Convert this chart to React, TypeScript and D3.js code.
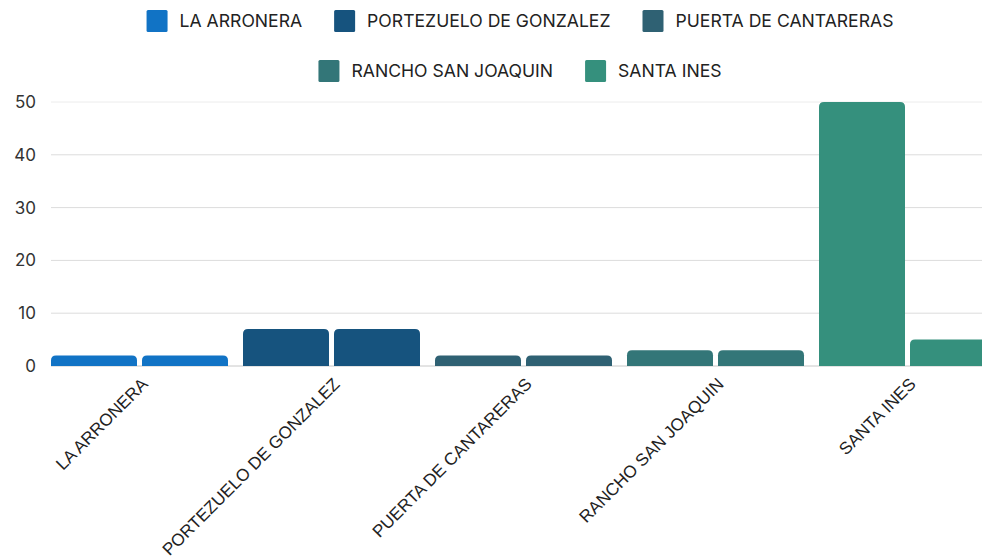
import React from 'react'
import * as d3 from 'd3'

const categories = ['LA ARRONERA', 'PORTEZUELO DE GONZALEZ', 'PUERTA DE CANTARERAS', 'RANCHO SAN JOAQUIN', 'SANTA INES']
const seriesA = [2, 7, 2, 3, 50]
const seriesB = [2, 7, 2, 3, 5]
const colors = ['#1173c5', '#16537e', '#2f6173', '#337678', '#35907d']
const yTicks = [0, 10, 20, 30, 40, 50]
const legendRows = [[0, 1, 2], [3, 4]]

const width = 982
const height = 559
const left = 51
const top = 102
const bottom = 366
const legendFont = '17.6px Inter'

const measure = (() => {
  const ctx = typeof document !== 'undefined' ? document.createElement('canvas').getContext('2d') : null
  return (s: string) => {
    if (!ctx) return s.length * 10
    ctx.font = legendFont
    return ctx.measureText(s).width
  }
})()

const topRounded = (x: number, y: number, w: number, h: number, r: number) => {
  const rr = Math.min(r, h, w / 2)
  return `M${x},${y + h}V${y + rr}Q${x},${y} ${x + rr},${y}H${x + w - rr}Q${x + w},${y} ${x + w},${y + rr}V${y + h}Z`
}

export default function App () {
  const x = d3.scaleBand<string>().domain(categories).range([left, left + 192 * 5 - 15]).paddingInner(15 / 192).paddingOuter(0)
  const inner = d3.scaleBand<number>().domain([0, 1]).range([0, x.bandwidth()]).paddingInner(5 / 91).paddingOuter(0)
  const y = d3.scaleLinear().domain([0, 50]).range([bottom, top])

  const legend = legendRows.map((row, ri) => {
    const items = row.map(i => ({ i, w: 21 + 12 + measure(categories[i]) }))
    const total = d3.sum(items, d => d.w) + 32 * (items.length - 1)
    let cx = 520 - total / 2
    return items.map(d => {
      const out = { ...d, x: cx, y: 21 + ri * 50 }
      cx += d.w + 32
      return out
    })
  }).flat()

  return (
    <svg width={width} height={height} style={{ display: 'block', position: 'absolute', left: 0, top: 0 }}>
      {legend.map(d => (
        <g key={d.i} transform={`translate(${d.x},${d.y})`}>
          <rect x={0} y={-11} width={21} height={22} rx={1.5} fill={colors[d.i]} />
          <text x={33} y={0} dy='0.35em' fontFamily='Inter' fontSize={17.6} fill='#222'>{categories[d.i]}</text>
        </g>
      ))}
      {yTicks.map(t => (
        <g key={t}>
          <line x1={left} x2={width} y1={y(t)} y2={y(t)} stroke={t === 0 ? '#c8c8c8' : t === 50 ? '#ececec' : '#dcdcdc'} strokeWidth={1} />
          <text x={36} y={y(t)} dy='0.35em' textAnchor='end' fontFamily='Inter' fontSize={17} fill='#333'>{t}</text>
        </g>
      ))}
      {categories.map((c, ci) => (
        <g key={c}>
          {[seriesA[ci], seriesB[ci]].map((v, si) => (
            <path key={si} d={topRounded(x(c)! + inner(si)!, y(v), inner.bandwidth(), y(0) - y(v), 5)} fill={colors[ci]} />
          ))}
          <text
            transform={`translate(${x(c)! + x.bandwidth() / 2 + 5},${381}) rotate(-45)`}
            textAnchor='end'
            dy='0.35em'
            fontFamily='Liberation Sans, Arial, sans-serif'
            fontSize={17.2}
            fill='#222'
          >{c}</text>
        </g>
      ))}
    </svg>
  )
}
